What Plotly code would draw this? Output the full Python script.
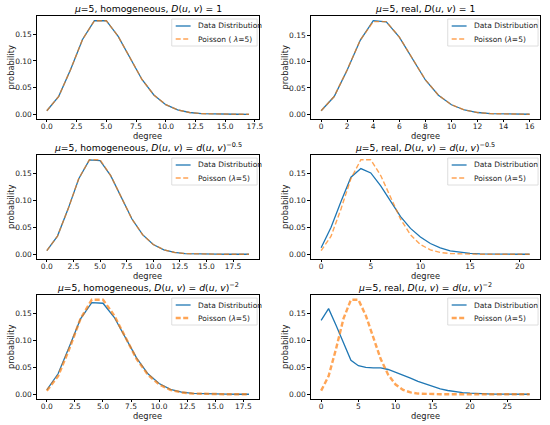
import plotly.graph_objects as go

# ---- data ----
deg_tl = list(range(18))
data_tl = [0.0067, 0.0337, 0.0842, 0.1404, 0.1755, 0.1756, 0.1462, 0.1044, 0.0653, 0.0363, 0.0181, 0.0082, 0.0034, 0.0013, 0.0005, 0.0002, 0.0001, 0.0000]
pois_tl = [0.0067, 0.0337, 0.0842, 0.1404, 0.1755, 0.1755, 0.1462, 0.1044, 0.0653, 0.0363, 0.0181, 0.0082, 0.0034, 0.0013, 0.0005, 0.0002, 0.0001, 0.0000]

deg_tr = list(range(17))
data_tr = [0.0068, 0.0336, 0.0840, 0.1400, 0.1772, 0.1748, 0.1460, 0.1042, 0.0650, 0.0362, 0.0181, 0.0082, 0.0034, 0.0013, 0.0005, 0.0002, 0.0001]
pois_tr = [0.0067, 0.0337, 0.0842, 0.1404, 0.1755, 0.1755, 0.1462, 0.1044, 0.0653, 0.0363, 0.0181, 0.0082, 0.0034, 0.0013, 0.0005, 0.0002, 0.0001]

deg_ml = list(range(20))
data_ml = [0.0068, 0.0338, 0.0843, 0.1402, 0.1752, 0.1740, 0.1460, 0.1044, 0.0654, 0.0364, 0.0182, 0.0083, 0.0034, 0.0013, 0.0005, 0.0002, 0.0001, 0.0000, 0.0000, 0.0000]
pois_ml = [0.0067, 0.0337, 0.0842, 0.1404, 0.1755, 0.1755, 0.1462, 0.1044, 0.0653, 0.0363, 0.0181, 0.0082, 0.0034, 0.0013, 0.0005, 0.0002, 0.0001, 0.0000, 0.0000, 0.0000]

deg_mr = list(range(22))
data_mr = [0.0120, 0.0500, 0.0980, 0.1430, 0.1590, 0.1510, 0.1270, 0.0980, 0.0700, 0.0480, 0.0320, 0.0200, 0.0120, 0.0065, 0.0035, 0.0018, 0.0009, 0.0004, 0.0002, 0.0001, 0.0000, 0.0000]
pois_mr = [0.0067, 0.0337, 0.0842, 0.1404, 0.1755, 0.1755, 0.1462, 0.1044, 0.0653, 0.0363, 0.0181, 0.0082, 0.0034, 0.0013, 0.0005, 0.0002, 0.0001, 0.0000, 0.0000, 0.0000, 0.0000, 0.0000]

deg_bl = list(range(19))
data_bl = [0.0080, 0.0380, 0.0880, 0.1400, 0.1700, 0.1690, 0.1430, 0.1050, 0.0670, 0.0380, 0.0200, 0.0092, 0.0040, 0.0015, 0.0006, 0.0002, 0.0001, 0.0000, 0.0000]
pois_bl = [0.0067, 0.0337, 0.0842, 0.1404, 0.1755, 0.1755, 0.1462, 0.1044, 0.0653, 0.0363, 0.0181, 0.0082, 0.0034, 0.0013, 0.0005, 0.0002, 0.0001, 0.0000, 0.0000]

deg_br = list(range(29))
data_br = [0.1370, 0.1590, 0.1280, 0.0950, 0.0630, 0.0530, 0.0500, 0.0490, 0.0490, 0.0460, 0.0410, 0.0360, 0.0300, 0.0240, 0.0190, 0.0140, 0.0100, 0.0070, 0.0045, 0.0030, 0.0020, 0.0012, 0.0007, 0.0004, 0.0002, 0.0001, 0.0001, 0.0000, 0.0000]
pois_br = [0.0067, 0.0337, 0.0842, 0.1404, 0.1755, 0.1755, 0.1462, 0.1044, 0.0653, 0.0363, 0.0181, 0.0082, 0.0034, 0.0013, 0.0005, 0.0002, 0.0001, 0.0000, 0.0000, 0.0000, 0.0000, 0.0000, 0.0000, 0.0000, 0.0000, 0.0000, 0.0000, 0.0000, 0.0000]

mu = "<i>μ</i>=5"
D = "<i>D</i>(<i>u</i>, <i>v</i>)"
d = "<i>d</i>(<i>u</i>, <i>v</i>)"
titles = [
    f"{mu}, homogeneous, {D} = 1",
    f"{mu}, real, {D} = 1",
    f"{mu}, homogeneous, {D} = {d}<sup>−0.5</sup>",
    f"{mu}, real, {D} = {d}<sup>−0.5</sup>",
    f"{mu}, homogeneous, {D} = {d}<sup>−2</sup>",
    f"{mu}, real, {D} = {d}<sup>−2</sup>",
]
data_name = "Data Distribution"
pois_names = ["Poisson ( <i>λ</i>=5)"] + ["Poisson (<i>λ</i>=5)"] * 5

panels = [
    (deg_tl, data_tl, pois_tl, 2.5, 1.4),
    (deg_tr, data_tr, pois_tr, 2, 1.4),
    (deg_ml, data_ml, pois_ml, 2.5, 1.4),
    (deg_mr, data_mr, pois_mr, 5, 1.4),
    (deg_bl, data_bl, pois_bl, 2.5, 2.4),
    (deg_br, data_br, pois_br, 5, 2.4),
]

W, H = 550, 425
xpx = [(37, 261), (313, 544)]
ypx = [(16, 119), (155, 259), (295, 399)]

FONT = "DejaVu Sans"
BLUE = "#1f77b4"
ORANGE = "#ff7f0e"
fig = go.Figure()
layout = dict(
    width=W, height=H, margin=dict(l=0, r=0, t=0, b=0),
    paper_bgcolor="white", plot_bgcolor="white",
    font=dict(family=FONT, size=8, color="black"),
    showlegend=False,
    annotations=[], shapes=[],
)

def px(xp):
    return xp / W

def py(yp):
    return 1 - yp / H

for i, (deg, dat, poi, dtick, pw) in enumerate(panels):
    r, c = divmod(i, 2)
    n = "" if i == 0 else str(i + 1)
    x0, x1 = xpx[c]
    y0, y1 = ypx[r]
    xd = [px(x0), px(x1)]
    yd = [py(y1), py(y0)]
    fig.add_trace(go.Scatter(x=deg, y=dat, mode="lines", name=data_name,
                             line=dict(color=BLUE, width=1.3),
                             xaxis="x" + n, yaxis="y" + n))
    fig.add_trace(go.Scatter(x=deg, y=poi, mode="lines", name=pois_names[i],
                             line=dict(color=ORANGE, width=pw, dash="5px,2.5px"),
                             opacity=0.7,
                             xaxis="x" + n, yaxis="y" + n))
    span = deg[-1] - deg[0]
    xr = [deg[0] - 0.05 * span, deg[-1] + 0.05 * span]
    ymax = max(max(dat), max(poi))
    yr = [-0.05 * ymax, 1.05 * ymax]
    fmt = ".1f" if dtick == 2.5 else "d"
    common = dict(showline=True, mirror=True, linecolor="black", linewidth=0.8,
                  ticks="outside", ticklen=2.5, tickwidth=0.8, tickcolor="black",
                  showgrid=False, zeroline=False,
                  tickfont=dict(family=FONT, size=7.5, color="#222"))
    layout["xaxis" + n] = dict(domain=xd, range=xr, tick0=0, dtick=dtick, tickformat=fmt,
                               anchor="y" + n, ticklabelstandoff=-2, **common)
    layout["yaxis" + n] = dict(domain=yd, range=yr, tick0=0, dtick=0.05, tickformat=".2f",
                               anchor="x" + n, **common)
    # axis titles
    layout["annotations"].append(dict(
        text="degree", x=(xd[0] + xd[1]) / 2, y=py(y1 + 16.5), xref="paper", yref="paper",
        xanchor="center", yanchor="middle", showarrow=False,
        font=dict(family=FONT, size=8.3, color="#222")))
    layout["annotations"].append(dict(
        text="probability", x=px(x0 - 26), y=(yd[0] + yd[1]) / 2, xref="paper", yref="paper",
        xanchor="center", yanchor="middle", textangle=-90, showarrow=False,
        font=dict(family=FONT, size=8.3, color="#222")))
    # title
    layout["annotations"].append(dict(
        text=titles[i], x=(xd[0] + xd[1]) / 2, y=yd[1], xref="paper", yref="paper",
        xanchor="center", yanchor="bottom", yshift=0, showarrow=False,
        font=dict(family=FONT, size=9.2, color="black")))
    # legend (drawn manually, matplotlib style)
    bw = 86 if c == 0 else 91
    bx1 = x1 - 2
    bx0 = bx1 - bw
    by0 = y0 + 3
    by1 = by0 + 27
    layout["shapes"].append(dict(type="rect", xref="paper", yref="paper",
                                 x0=px(bx0), x1=px(bx1), y0=py(by1), y1=py(by0),
                                 line=dict(color="#d5d5d5", width=0.8),
                                 fillcolor="rgba(255,255,255,0.85)"))
    for k, (nm, col, wd, dash, op) in enumerate([
            (data_name, BLUE, 1.3, "solid", 1.0),
            (pois_names[i], ORANGE, pw, "5px,2.5px", 0.7)]):
        yy = by0 + 7 + k * 13
        layout["shapes"].append(dict(type="line", xref="paper", yref="paper",
                                     x0=px(bx0 + 4), x1=px(bx0 + 19), y0=py(yy), y1=py(yy),
                                     line=dict(color=col, width=wd, dash=dash), opacity=op))
        layout["annotations"].append(dict(
            text=nm, x=px(bx0 + 24), y=py(yy), xref="paper", yref="paper",
            xanchor="left", yanchor="middle", showarrow=False,
            font=dict(family=FONT, size=7.5, color="#222")))

fig.update_layout(**layout)
fig.write_html("out.html", config={"displayModeBar": False},
               post_script="document.body.style.margin='0';")
